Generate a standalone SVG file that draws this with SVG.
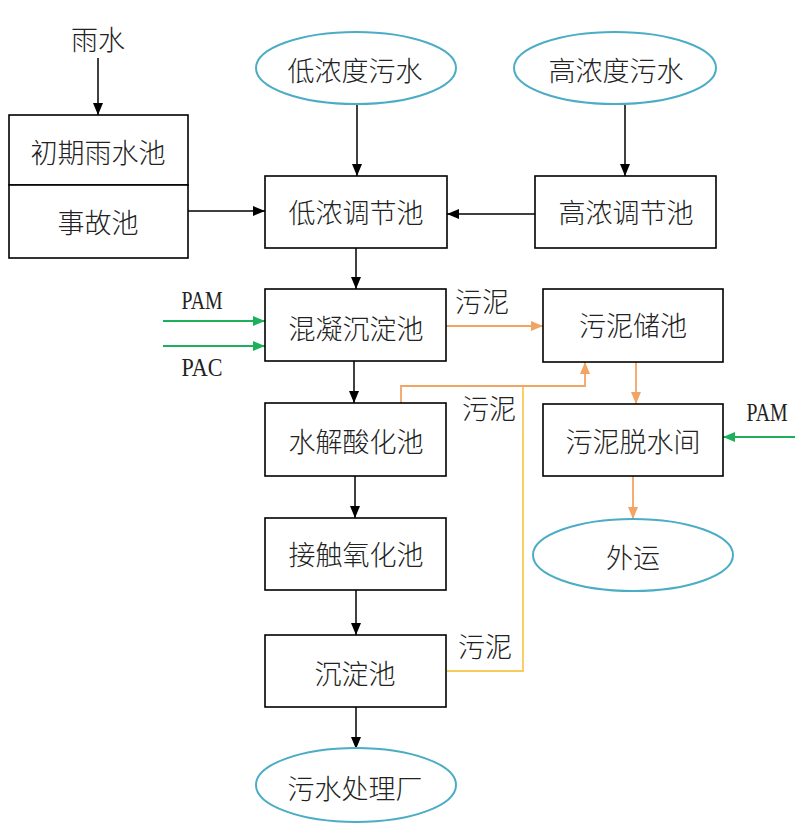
<svg xmlns="http://www.w3.org/2000/svg" width="806" height="827" viewBox="0 0 806 827">
<defs>
<style>
.box{fill:#fff;stroke:#000;stroke-width:1.6}
.ell{fill:#fff;stroke:#4BACC6;stroke-width:2}
.t{font-family:"Noto Sans CJK SC","Noto Sans CJK JP",sans-serif;font-size:27px;fill:#222;text-anchor:middle;dominant-baseline:central;font-weight:300}
.lat{font-family:"Liberation Serif",serif;font-size:26px;fill:#222;text-anchor:middle;dominant-baseline:central}
.k{stroke:#000;stroke-width:1.5;fill:none}
.o{stroke:#F2A465;stroke-width:1.8;fill:none}
.y{stroke:#F7CB5A;stroke-width:1.8;fill:none}
.g{stroke:#1DB05A;stroke-width:1.8;fill:none}
</style>
<marker id="ak" viewBox="0 0 12 10" refX="12" refY="5" markerWidth="12" markerHeight="10" markerUnits="userSpaceOnUse" orient="auto"><path d="M0,0L12,5L0,10Z" fill="#000"/></marker>
<marker id="ao" viewBox="0 0 12 10" refX="12" refY="5" markerWidth="12" markerHeight="10" markerUnits="userSpaceOnUse" orient="auto"><path d="M0,0L12,5L0,10Z" fill="#F2A465"/></marker>
<marker id="ag" viewBox="0 0 12 10" refX="12" refY="5" markerWidth="12" markerHeight="10" markerUnits="userSpaceOnUse" orient="auto"><path d="M0,0L12,5L0,10Z" fill="#1DB05A"/></marker>
</defs>
<rect width="806" height="827" fill="#fff"/>
<g id="connectors">
<line class="k" x1="98" y1="58" x2="98" y2="115" marker-end="url(#ak)"/>
<line class="k" x1="357" y1="104" x2="357" y2="176" marker-end="url(#ak)"/>
<line class="k" x1="625" y1="104" x2="625" y2="176" marker-end="url(#ak)"/>
<line class="k" x1="188" y1="211" x2="265" y2="211" marker-end="url(#ak)"/>
<line class="k" x1="535" y1="214" x2="447" y2="214" marker-end="url(#ak)"/>
<line class="k" x1="356" y1="248" x2="356" y2="289" marker-end="url(#ak)"/>
<line class="g" x1="163" y1="321" x2="265" y2="321" marker-end="url(#ag)"/>
<line class="g" x1="163" y1="346" x2="265" y2="346" marker-end="url(#ag)"/>
<line class="o" x1="446" y1="326" x2="543" y2="326" marker-end="url(#ao)"/>
<line class="k" x1="354" y1="361" x2="354" y2="403" marker-end="url(#ak)"/>
<polyline class="y" points="447,671 523,671 523,386"/>
<polyline class="o" points="401,403 401,386 585,386 585,362" marker-end="url(#ao)"/>
<line class="o" x1="636" y1="362" x2="636" y2="404" marker-end="url(#ao)"/>
<line class="g" x1="795" y1="437" x2="723" y2="437" marker-end="url(#ag)"/>
<line class="o" x1="633" y1="476" x2="633" y2="519" marker-end="url(#ao)"/>
<line class="k" x1="355" y1="476" x2="355" y2="518" marker-end="url(#ak)"/>
<line class="k" x1="356" y1="590" x2="356" y2="635" marker-end="url(#ak)"/>
<line class="k" x1="356" y1="707" x2="356" y2="749" marker-end="url(#ak)"/>
</g>
<g id="labels">
<text class="t" x="98" y="38">雨水</text>
<text class="lat" x="202" y="300" textLength="41" lengthAdjust="spacingAndGlyphs">PAM</text>
<text class="lat" x="202" y="367" textLength="41" lengthAdjust="spacingAndGlyphs">PAC</text>
<text class="lat" x="767" y="412" textLength="41" lengthAdjust="spacingAndGlyphs">PAM</text>
<text class="t" x="482" y="300">污泥</text>
<text class="t" x="489" y="407">污泥</text>
<text class="t" x="485" y="645">污泥</text>
</g>
<g id="n-rain-first"><rect class="box" x="9" y="115" width="179" height="70"/><text class="t" x="98" y="151">初期雨水池</text></g>
<g id="n-accident"><rect class="box" x="9" y="185" width="179" height="73"/><text class="t" x="98" y="221">事故池</text></g>
<g id="n-low-water"><ellipse class="ell" cx="356" cy="68" rx="100" ry="36"/><text class="t" x="355" y="69">低浓度污水</text></g>
<g id="n-high-water"><ellipse class="ell" cx="615" cy="68" rx="101" ry="36"/><text class="t" x="616" y="69">高浓度污水</text></g>
<g id="n-low-tank"><rect class="box" x="265" y="176" width="182" height="72"/><text class="t" x="356" y="211">低浓调节池</text></g>
<g id="n-high-tank"><rect class="box" x="535" y="176" width="181" height="72"/><text class="t" x="626" y="211">高浓调节池</text></g>
<g id="n-coag"><rect class="box" x="265" y="289" width="181" height="72"/><text class="t" x="356" y="327">混凝沉淀池</text></g>
<g id="n-sludge-store"><rect class="box" x="543" y="289" width="180" height="73"/><text class="t" x="633" y="324">污泥储池</text></g>
<g id="n-hydro"><rect class="box" x="265" y="403" width="181" height="73"/><text class="t" x="356" y="440">水解酸化池</text></g>
<g id="n-dewater"><rect class="box" x="543" y="404" width="180" height="72"/><text class="t" x="633" y="440">污泥脱水间</text></g>
<g id="n-out"><ellipse class="ell" cx="633" cy="555" rx="100" ry="36"/><text class="t" x="633" y="556">外运</text></g>
<g id="n-contact"><rect class="box" x="265" y="518" width="181" height="72"/><text class="t" x="356" y="553">接触氧化池</text></g>
<g id="n-settle"><rect class="box" x="265" y="635" width="181" height="72"/><text class="t" x="355" y="672">沉淀池</text></g>
<g id="n-plant"><ellipse class="ell" cx="356" cy="785" rx="100" ry="37"/><text class="t" x="355" y="787">污水处理厂</text></g>
</svg>
